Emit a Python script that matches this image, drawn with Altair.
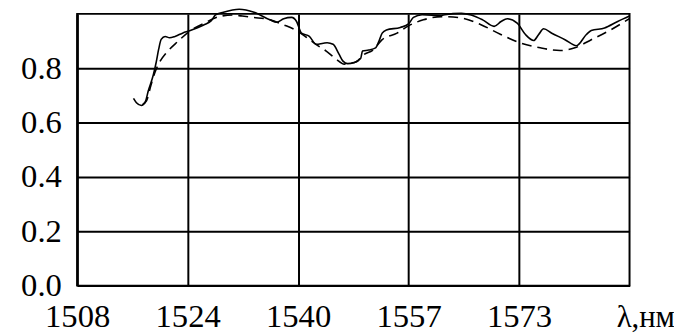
import altair as alt
import pandas as pd

# Solid curve (measured spectrum)
solid_x = [1516.36, 1516.80, 1517.53, 1518.12, 1518.56, 1519.30, 1519.74, 1520.10, 1520.47,
           1521.06, 1521.72, 1522.52, 1523.70, 1524.58, 1526.78, 1527.95, 1528.54, 1529.71,
           1532.06, 1534.26, 1536.60, 1537.63, 1538.66, 1539.83, 1540.57, 1541.30, 1542.47,
           1543.50, 1544.53, 1545.11, 1545.99, 1546.87, 1547.46, 1548.15, 1549.07, 1550.10,
           1550.35, 1551.27, 1552.30, 1552.79, 1553.28, 1553.91, 1555.97, 1557.19, 1557.92,
           1559.20, 1562.09, 1562.57, 1565.02, 1566.49, 1568.19, 1569.90, 1570.93, 1571.85,
           1573.32, 1574.55, 1575.77, 1576.51, 1577.24, 1578.46, 1580.42, 1582.12, 1583.59,
           1584.32, 1586.29, 1588.24, 1590.00]
solid_y = [0.689, 0.673, 0.663, 0.677, 0.717, 0.775, 0.823, 0.870, 0.906,
           0.917, 0.912, 0.917, 0.930, 0.937, 0.959, 0.976, 0.996, 1.006,
           1.017, 1.006, 0.978, 0.969, 0.982, 0.987, 0.972, 0.929, 0.917,
           0.888, 0.892, 0.894, 0.888, 0.852, 0.826, 0.817, 0.820, 0.837,
           0.863, 0.867, 0.875, 0.899, 0.929, 0.941, 0.950, 0.963, 0.987,
           0.997, 0.994, 0.997, 1.002, 0.996, 0.978, 0.954, 0.972, 0.982,
           0.966, 0.924, 0.902, 0.924, 0.945, 0.929, 0.905, 0.883, 0.924,
           0.939, 0.948, 0.972, 0.992]

# Dashed curve (fit)
dashed_x = [1517.68, 1518.31, 1518.93, 1519.54, 1520.32, 1521.25, 1522.96, 1524.68, 1526.88,
            1529.08, 1531.03, 1532.50, 1534.21, 1536.65, 1538.61, 1540.32, 1542.03, 1543.50,
            1544.97, 1546.43, 1547.65, 1548.63, 1549.37, 1550.59, 1551.86, 1553.28, 1555.49,
            1557.19, 1559.39, 1562.09, 1565.02, 1567.95, 1570.89, 1573.82, 1576.75, 1579.68,
            1581.88, 1584.32, 1587.26, 1590.00]
dashed_y = [0.666, 0.681, 0.735, 0.784, 0.826, 0.857, 0.899, 0.936, 0.966,
            0.990, 0.996, 0.992, 0.987, 0.978, 0.960, 0.942, 0.914, 0.887,
            0.863, 0.834, 0.815, 0.819, 0.823, 0.851, 0.866, 0.905, 0.929,
            0.956, 0.978, 0.990, 0.985, 0.960, 0.924, 0.893, 0.875, 0.865,
            0.875, 0.905, 0.942, 0.983]

x_tick_values = [1508, 1524.4, 1540.8, 1557.2, 1573.6]
x_tick_labels = ["1508", "1524", "1540", "1557", "1573"]
y_tick_values = [0.0, 0.2, 0.4, 0.6, 0.8]
x_title = "λ,нм"

label_expr = " : ".join(
    f"abs(datum.value - {v}) < 0.01 ? '{l}'" for v, l in zip(x_tick_values, x_tick_labels)
) + " : ''"

solid_df = pd.DataFrame({"x": solid_x, "y": solid_y})
dashed_df = pd.DataFrame({"x": dashed_x, "y": dashed_y})

FONT = "Liberation Serif, Times New Roman, serif"

x_enc = alt.X(
    "x:Q",
    scale=alt.Scale(domain=[1508, 1590], nice=False, zero=False),
    axis=alt.Axis(
        values=x_tick_values,
        labelExpr=label_expr,
        title=x_title,
        titleX=575,
        titleY=41,
        titleAlign="center",
        titleBaseline="alphabetic",
        titleFont=FONT,
        titleFontSize=31,
        titleFontWeight="normal",
        titleColor="black",
        labelFont=FONT,
        labelFontSize=33,
        labelColor="black",
        labelPadding=15,
        ticks=False,
        grid=True,
        gridColor="black",
        gridWidth=2,
        gridOpacity=1,
        domainColor="black",
        domainWidth=2,
        labelFlush=False,
        labelOverlap=False,
    ),
)
y_enc = alt.Y(
    "y:Q",
    scale=alt.Scale(domain=[0, 1], nice=False, zero=True),
    axis=alt.Axis(
        values=y_tick_values,
        format=".1f",
        title=None,
        labelFont=FONT,
        labelFontSize=33,
        labelColor="black",
        labelPadding=16,
        ticks=False,
        grid=True,
        gridColor="black",
        gridWidth=2,
        gridOpacity=1,
        domainColor="black",
        domainWidth=2,
        labelFlush=False,
        labelOverlap=False,
    ),
)

solid = alt.Chart(solid_df).mark_line(
    color="black", strokeWidth=1.6, interpolate="monotone", clip=False
).encode(x=x_enc, y=y_enc)

dashed = alt.Chart(dashed_df).mark_line(
    color="black", strokeWidth=1.6, strokeDash=[10, 6], interpolate="monotone", clip=False
).encode(x="x:Q", y="y:Q")

chart = alt.layer(dashed, solid).properties(
    width=559,
    height=275,
    autosize=alt.AutoSizeParams(type="none"),
    padding={"left": 70, "top": 4, "right": 45, "bottom": 46},
    background="white",
).configure_view(stroke="black", strokeWidth=2)

chart.save("out.html", embed_options={"renderer": "svg", "actions": False})
